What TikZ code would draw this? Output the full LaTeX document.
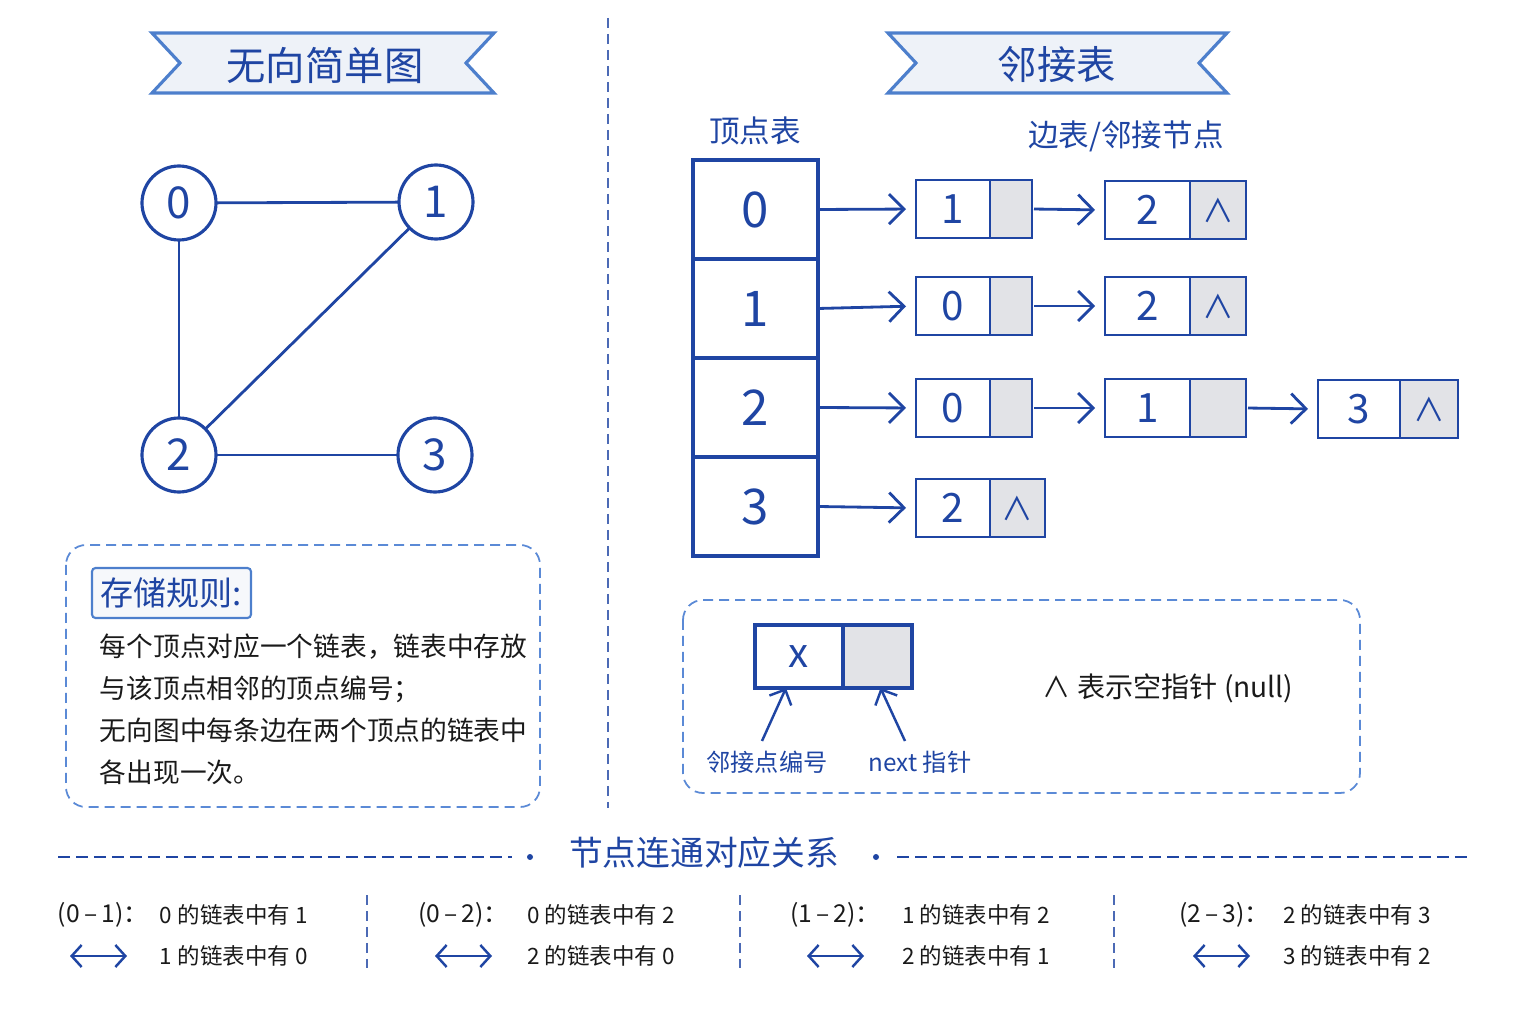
\documentclass[tikz,border=0pt]{standalone}
\usepackage{fontspec}
\setmainfont{Noto Sans CJK SC}
\usetikzlibrary{positioning,arrows.meta}

\definecolor{inkblue}{HTML}{1F45A3}
\definecolor{bannerline}{HTML}{4D7FCC}
\definecolor{bannerfill}{HTML}{EEF2F8}
\definecolor{dashblue}{HTML}{5B8AD6}
\definecolor{cellgray}{HTML}{E2E3E7}
\definecolor{inktext}{HTML}{1A1A1A}

\newcommand{\nullsym}{{\fontsize{9pt}{10pt}\selectfont ∧}}

\begin{document}
\begin{tikzpicture}[x=0.1mm, y=-0.1mm,
    every node/.style={font=\fontsize{8pt}{10pt}\selectfont, text=inkblue, inner sep=0pt, outer sep=0pt},
    vert/.style={circle, draw=inkblue, line width=0.9pt, minimum size=7.4mm, font=\fontsize{12.5pt}{14pt}\selectfont},
    gedge/.style={draw=inkblue, line width=0.8pt},
    vcell/.style={rectangle, draw=inkblue, line width=0.9pt, minimum width=12.5mm, minimum height=9.9mm, font=\fontsize{14pt}{16pt}\selectfont},
    dcell/.style={rectangle, draw=inkblue, line width=0.7pt, minimum height=5.8mm, font=\fontsize{11.5pt}{13pt}\selectfont},
    pcell/.style={dcell, fill=cellgray},
    link/.style={draw=inkblue, line width=0.8pt, shorten >=1mm, shorten <=0.2mm, -{Straight Barb[length=1.5mm, width=3mm]}},
    banner/.style={draw=bannerline, fill=bannerfill, line width=0.9pt},
    dashbox/.style={draw=dashblue, dash pattern=on 1mm off 0.6mm, line width=0.5pt, rounded corners=2mm},
    bigtitle/.style={font=\fontsize{11.2pt}{13pt}\selectfont},
    subtitle/.style={font=\fontsize{8.7pt}{10pt}\selectfont},
    note/.style={text=inktext, font=\fontsize{6.4pt}{8pt}\selectfont}
  ]
  \useasboundingbox (0,0) rectangle (1536,1024);

  % Banners
  \draw[banner] (152,33) -- (494,33) -- (466,63) -- (494,93) -- (152,93) -- (180,63) -- cycle;
  \node (bangraph) [bigtitle] at (325,65) {无向简单图};
  \draw[banner] (888,33) -- (1227,33) -- (1199,63) -- (1227,93) -- (888,93) -- (916,63) -- cycle;
  \node (banlist) [bigtitle] at (1057,65) {邻接表};

  % Divider
  \draw[inkblue!80, dash pattern=on 1mm off 0.6mm, line width=0.5pt] (608,18) -- (608,808);

  % Graph
  \node (g0) [vert] at (179,203) {0};
  \node (g1) [vert] at (436,202) {1};
  \node (g2) [vert] at (179,455) {2};
  \node (g3) [vert] at (435,455) {3};
  \draw[gedge] (g0) -- (g1);
  \draw[gedge] (g0) -- (g2);
  \draw[gedge] (g1) -- (g2);
  \draw[gedge] (g2) -- (g3);

  % Vertex table
  \node (vhead) [subtitle] at (755,131) {顶点表};
  \node (ehead) [subtitle] at (1126,136) {边表/邻接节点};
  \node (v0) [vcell] at (755.5,209.5) {0};
  \node (v1) [vcell, below=0pt of v0] {1};
  \node (v2) [vcell, below=0pt of v1] {2};
  \node (v3) [vcell, below=0pt of v2] {3};

  % Edge lists
  \node (n01) [dcell, minimum width=7.4mm, anchor=west] at (916,209) {1};
  \node (p01) [pcell, minimum width=4.2mm, right=0pt of n01] {};
  \node (n02) [dcell, minimum width=8.5mm, anchor=west] at (1105,210) {2};
  \node (p02) [pcell, minimum width=5.6mm, right=0pt of n02] {\nullsym};

  \node (n11) [dcell, minimum width=7.4mm, anchor=west] at (916,306) {0};
  \node (p11) [pcell, minimum width=4.2mm, right=0pt of n11] {};
  \node (n12) [dcell, minimum width=8.5mm, anchor=west] at (1105,306) {2};
  \node (p12) [pcell, minimum width=5.6mm, right=0pt of n12] {\nullsym};

  \node (n21) [dcell, minimum width=7.4mm, anchor=west] at (916,408) {0};
  \node (p21) [pcell, minimum width=4.2mm, right=0pt of n21] {};
  \node (n22) [dcell, minimum width=8.5mm, anchor=west] at (1105,408) {1};
  \node (p22) [pcell, minimum width=5.6mm, right=0pt of n22] {};
  \node (n23) [dcell, minimum width=8.2mm, anchor=west] at (1318,409) {3};
  \node (p23) [pcell, minimum width=5.8mm, right=0pt of n23] {\nullsym};

  \node (n31) [dcell, minimum width=7.4mm, anchor=west] at (916,508) {2};
  \node (p31) [pcell, minimum width=5.5mm, right=0pt of n31] {\nullsym};

  % Arrows
  \draw[link] (v0.east) -- (n01.west);
  \draw[link] (p01.east) -- (n02.west);
  \draw[link] (v1.east) -- (n11.west);
  \draw[link] (p11.east) -- (n12.west);
  \draw[link] (v2.east) -- (n21.west);
  \draw[link] (p21.east) -- (n22.west);
  \draw[link] (p22.east) -- (n23.west);
  \draw[link] (v3.east) -- (n31.west);

  % Legend
  \draw[dashbox] (683,600) rectangle (1360,793);
  \node (lx) [dcell, line width=0.9pt, minimum width=8.8mm, minimum height=6.3mm, anchor=west] at (755,656.5) {x};
  \node (lp) [pcell, line width=0.9pt, minimum width=6.9mm, minimum height=6.3mm, right=0pt of lx] {};
  \node (labdata) [font=\fontsize{6.9pt}{8pt}\selectfont] at (767,762) {邻接点编号};
  \node (labnext) [font=\fontsize{6.9pt}{8pt}\selectfont] at (920,762) {next 指针};
  \coordinate (adata) at (762,741);
  \coordinate (anext) at (905,741);
  \draw[draw=inkblue, line width=0.7pt, -{Straight Barb[length=1.2mm, width=2.4mm]}] (adata) -- ([xshift=3.1mm]lx.south west);
  \draw[draw=inkblue, line width=0.7pt, -{Straight Barb[length=1.2mm, width=2.4mm]}] (anext) -- ([xshift=0.3mm]lp.south);
  \node (nullnote) [text=inktext] at (1168,688) {∧ 表示空指针 (null)};

  % Storage rule
  \draw[dashbox] (66,545) rectangle (540,807);
  \node (ruletitle) [draw=bannerline, fill=bannerfill!50, line width=0.6pt, rounded corners=1pt,
    minimum width=15.9mm, minimum height=5mm, font=\fontsize{9.4pt}{11pt}\selectfont] at (171.5,593) {存储规则:};
  \node (rulebody) [anchor=north west, align=left, text=inktext, font=\fontsize{7.6pt}{11.9pt}\selectfont] at (100,634)
    {每个顶点对应一个链表，链表中存放\\与该顶点相邻的顶点编号；\\无向图中每条边在两个顶点的链表中\\各出现一次。};

  % Relations
  \node (reltitle) [font=\fontsize{9.6pt}{11pt}\selectfont] at (704,853) {节点连通对应关系};
  \draw[inkblue, dash pattern=on 1.2mm off 0.6mm, line width=0.6pt] (58,857) -- (512,857);
  \draw[inkblue, dash pattern=on 1.2mm off 0.6mm, line width=0.6pt] (897,857) -- (1472,857);
  \fill[inkblue] (530,857) circle (3);
  \fill[inkblue] (876,857) circle (3);
  \foreach \x in {367,740,1114}
    \draw[inkblue!80, dash pattern=on 1mm off 0.6mm, line width=0.5pt] (\x,895) -- (\x,968);

  \foreach \i/\px/\tx/\ax/\pr/\la/\lb in {
      1/58/160/70/{(0\,–\,1)：}/{0 的链表中有 1}/{1 的链表中有 0},
      2/418/527/435/{(0\,–\,2)：}/{0 的链表中有 2}/{2 的链表中有 0},
      3/790/902/807/{(1\,–\,2)：}/{1 的链表中有 2}/{2 的链表中有 1},
      4/1179/1283/1193/{(2\,–\,3)：}/{2 的链表中有 3}/{3 的链表中有 2}} {
    \node (pair\i) [note, anchor=west, font=\fontsize{7pt}{8pt}\selectfont] at (\px,915) {\pr};
    \node (rela\i) [note, anchor=west] at (\tx,915) {\la};
    \node (relb\i) [note, anchor=west] at (\tx,956) {\lb};
    \coordinate (al\i) at (\ax,956);
    \coordinate (ar\i) at (\ax+57,956);
    \draw[inkblue, line width=0.7pt, {Straight Barb[length=1mm, width=2.2mm]}-{Straight Barb[length=1mm, width=2.2mm]}] (al\i) -- (ar\i);
  }
\end{tikzpicture}
\end{document}
